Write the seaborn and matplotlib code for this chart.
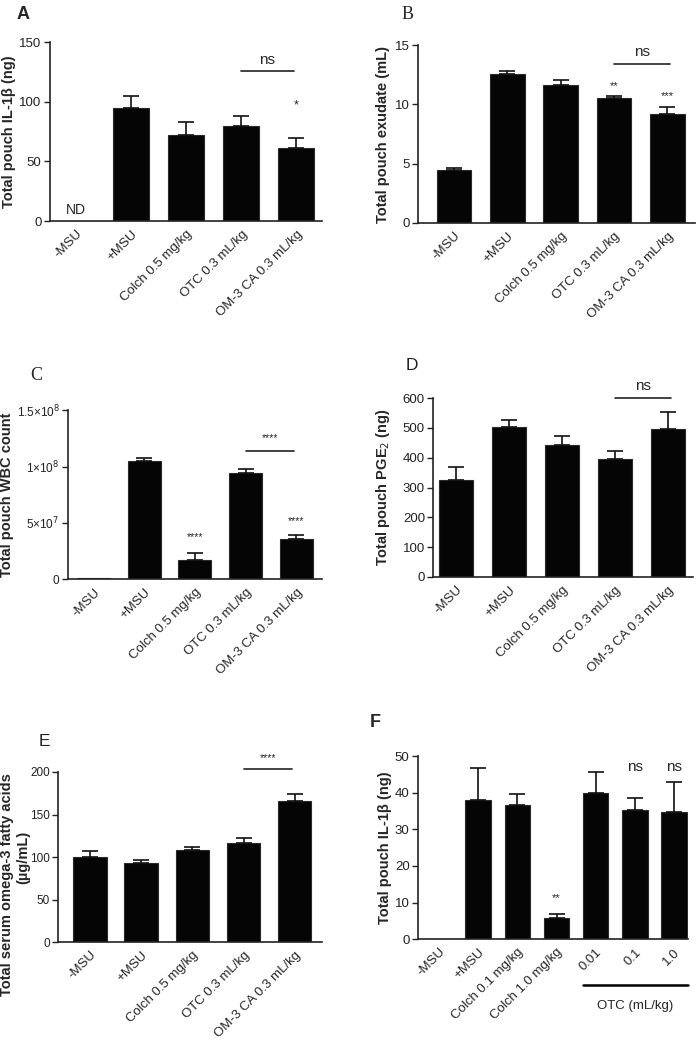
import numpy as np
import pandas as pd
import matplotlib
matplotlib.use("Agg")
import matplotlib.pyplot as plt
import matplotlib.transforms as mtransforms
import seaborn as sns

sns.set_style("ticks")
plt.rcParams["font.family"] = ["Liberation Sans", "DejaVu Sans"]

# Data
groups = ["-MSU", "+MSU", "Colch 0.5 mg/kg", "OTC 0.3 mL/kg", "OM-3 CA 0.3 mL/kg"]

a_mean = [0, 95, 72, 80, 61]
a_err = [np.nan, 10, 11, 8, 9]

b_mean = [4.45, 12.6, 11.6, 10.55, 9.15]
b_err = [0.2, 0.25, 0.45, 0.2, 0.6]

c_mean = [1.0e6, 1.05e8, 1.7e7, 9.45e7, 3.55e7]
c_err = [np.nan, 3e6, 6.5e6, 3e6, 3.5e6]
c_ticks = [0, 5e7, 1e8, 1.5e8]
c_ticklabels = ["0", r"5×10$^{7}$", r"1×10$^{8}$", r"1.5×10$^{8}$"]

d_mean = [325, 502, 442, 395, 498]
d_err = [43, 24, 30, 27, 55]

e_mean = [100, 93, 108, 116, 166]
e_err = [7, 3, 4, 6, 8]

f_groups = ["-MSU", "+MSU", "Colch 0.1 mg/kg", "Colch 1.0 mg/kg", "0.01", "0.1", "1.0"]
f_mean = [0, 38, 36.7, 5.8, 39.8, 35.3, 34.6]
f_err = [np.nan, 8.8, 3.0, 1.0, 5.9, 3.2, 8.4]

fig = plt.figure(figsize=(7, 10.4), dpi=100)


def bar_panel(rect, names, means, errs, ylim, yticks, xlim, ylabel, label_x):
    ax = fig.add_axes(rect)
    df = pd.DataFrame({"group": names, "value": means})
    sns.barplot(data=df, x="group", y="value", ax=ax, color="#050505",
                edgecolor="#2a2a2a", linewidth=0.8, width=0.65,
                errorbar=None, saturation=1)
    x = np.arange(len(names))
    e = np.array(errs, dtype=float)
    ok = ~np.isnan(e)
    ax.errorbar(x[ok], np.array(means)[ok], yerr=[np.zeros(ok.sum()), e[ok]],
                fmt="none", ecolor="#111111", elinewidth=1.2, capsize=6,
                capthick=1.2, zorder=1)
    ax.set_ylim(*ylim)
    ax.set_yticks(yticks)
    ax.set_xlim(*xlim)
    ax.set_xlabel("")
    ax.set_ylabel(ylabel, fontsize=10.5, fontweight="bold")
    ax.yaxis.set_label_coords(label_x, 0.5)
    ax.set_xticks(x)
    ax.set_xticklabels(names, rotation=45, ha="right", rotation_mode="anchor",
                       fontsize=9.5)
    ax.tick_params(axis="y", labelsize=9.5, length=4, width=1, pad=2,
                   colors="#222222")
    ax.tick_params(axis="x", length=0, pad=5)
    sns.despine(ax=ax)
    for s in ["left", "bottom"]:
        ax.spines[s].set_linewidth(1.2)
        ax.spines[s].set_color("#222222")
    return ax


def bracket(ax, x0, x1, y, label, dy, size=11):
    ax.plot([x0, x1], [y, y], color="#222222", lw=1.2, clip_on=False)
    ax.text((x0 + x1) / 2, y + dy, label, ha="center", va="bottom",
            fontsize=size, clip_on=False)


# A
ax = bar_panel([0.0714, 0.7875, 0.389, 0.172], groups, a_mean, a_err,
               (0, 150), [0, 50, 100, 150], (-0.47, 4.47),
               "Total pouch IL-1β (ng)", -0.125)
ax.text(0, 3, "ND", ha="center", va="bottom", fontsize=10)
bracket(ax, 3.0, 3.95, 125.5, "ns", 4)
ax.text(4, 92, "*", ha="center", va="bottom", fontsize=9)
fig.text(0.024, 0.986, "A", fontsize=13, fontweight="bold", va="center")

# B
ax = bar_panel([0.597, 0.7856, 0.396, 0.171], groups, b_mean, b_err,
               (0, 15), [0, 5, 10, 15], (-0.68, 4.52),
               "Total pouch exudate (mL)", -0.10)
bracket(ax, 3.0, 4.05, 13.4, "ns", 0.4)
ax.text(3, 11.1, "**", ha="center", va="bottom", fontsize=8)
ax.text(4, 10.3, "***", ha="center", va="bottom", fontsize=8)
fig.text(0.574, 0.986, "B", fontsize=13, family="Liberation Serif", va="center")

# C
ax = bar_panel([0.097, 0.443, 0.363, 0.1625], groups, c_mean, c_err,
               (0, 1.5e8), c_ticks, (-0.51, 4.51),
               "Total pouch WBC count", -0.213)
ax.set_yticklabels(c_ticklabels, fontsize=8.5)
bracket(ax, 3.0, 3.95, 1.137e8, "****", 0.07e8, size=7.5)
ax.text(2, 0.33e8, "****", ha="center", va="bottom", fontsize=7.5)
ax.text(4, 0.47e8, "****", ha="center", va="bottom", fontsize=7.5)
fig.text(0.043, 0.639, "C", fontsize=13, family="Liberation Serif", va="center")

# D
ax = bar_panel([0.619, 0.4452, 0.371, 0.172], groups, d_mean, d_err,
               (0, 600), [0, 100, 200, 300, 400, 500, 600], (-0.43, 4.47),
               "Total pouch PGE$_2$ (ng)", -0.158)
bracket(ax, 3.0, 4.05, 600, "ns", 16)
fig.text(0.579, 0.649, "D", fontsize=12.5, va="center", color="#222222")

# E
ax = bar_panel([0.083, 0.0942, 0.377, 0.1635], groups, e_mean, e_err,
               (0, 200), [0, 50, 100, 150, 200], (-0.62, 4.53),
               "", -0.1)
ax.tick_params(axis="y", labelsize=8.5)
ax.text(-0.192, 0.34, "Total serum omega-3 fatty acids", rotation=90,
        ha="center", va="center", fontsize=10.5, fontweight="bold",
        transform=ax.transAxes)
ax.text(-0.132, 0.5, "(µg/mL)", rotation=90, ha="center", va="center",
        fontsize=10.5, fontweight="bold", transform=ax.transAxes)
bracket(ax, 3.0, 3.95, 203, "****", 7, size=7.5)
fig.text(0.055, 0.287, "E", fontsize=12.5, va="center", color="#222222")

# F
ax = bar_panel([0.597, 0.097, 0.386, 0.176], f_groups, f_mean, f_err,
               (0, 50), [0, 10, 20, 30, 40, 50], (-0.54, 6.36),
               "Total pouch IL-1β (ng)", -0.096)
ax.text(3, 9.8, "**", ha="center", va="bottom", fontsize=8)
ax.text(5, 45.0, "ns", ha="center", va="bottom", fontsize=11)
ax.text(6, 45.0, "ns", ha="center", va="bottom", fontsize=11)
trans = mtransforms.blended_transform_factory(ax.transData, ax.transAxes)
ax.plot([3.67, 6.35], [-0.25, -0.25], color="black", lw=1.8,
        transform=trans, clip_on=False)
ax.text(5.0, -0.33, "OTC (mL/kg)", ha="center", va="top", fontsize=9.5,
        transform=trans)
fig.text(0.528, 0.305, "F", fontsize=13, fontweight="bold", va="center")

fig.savefig("out.png", dpi=100, facecolor="white")
